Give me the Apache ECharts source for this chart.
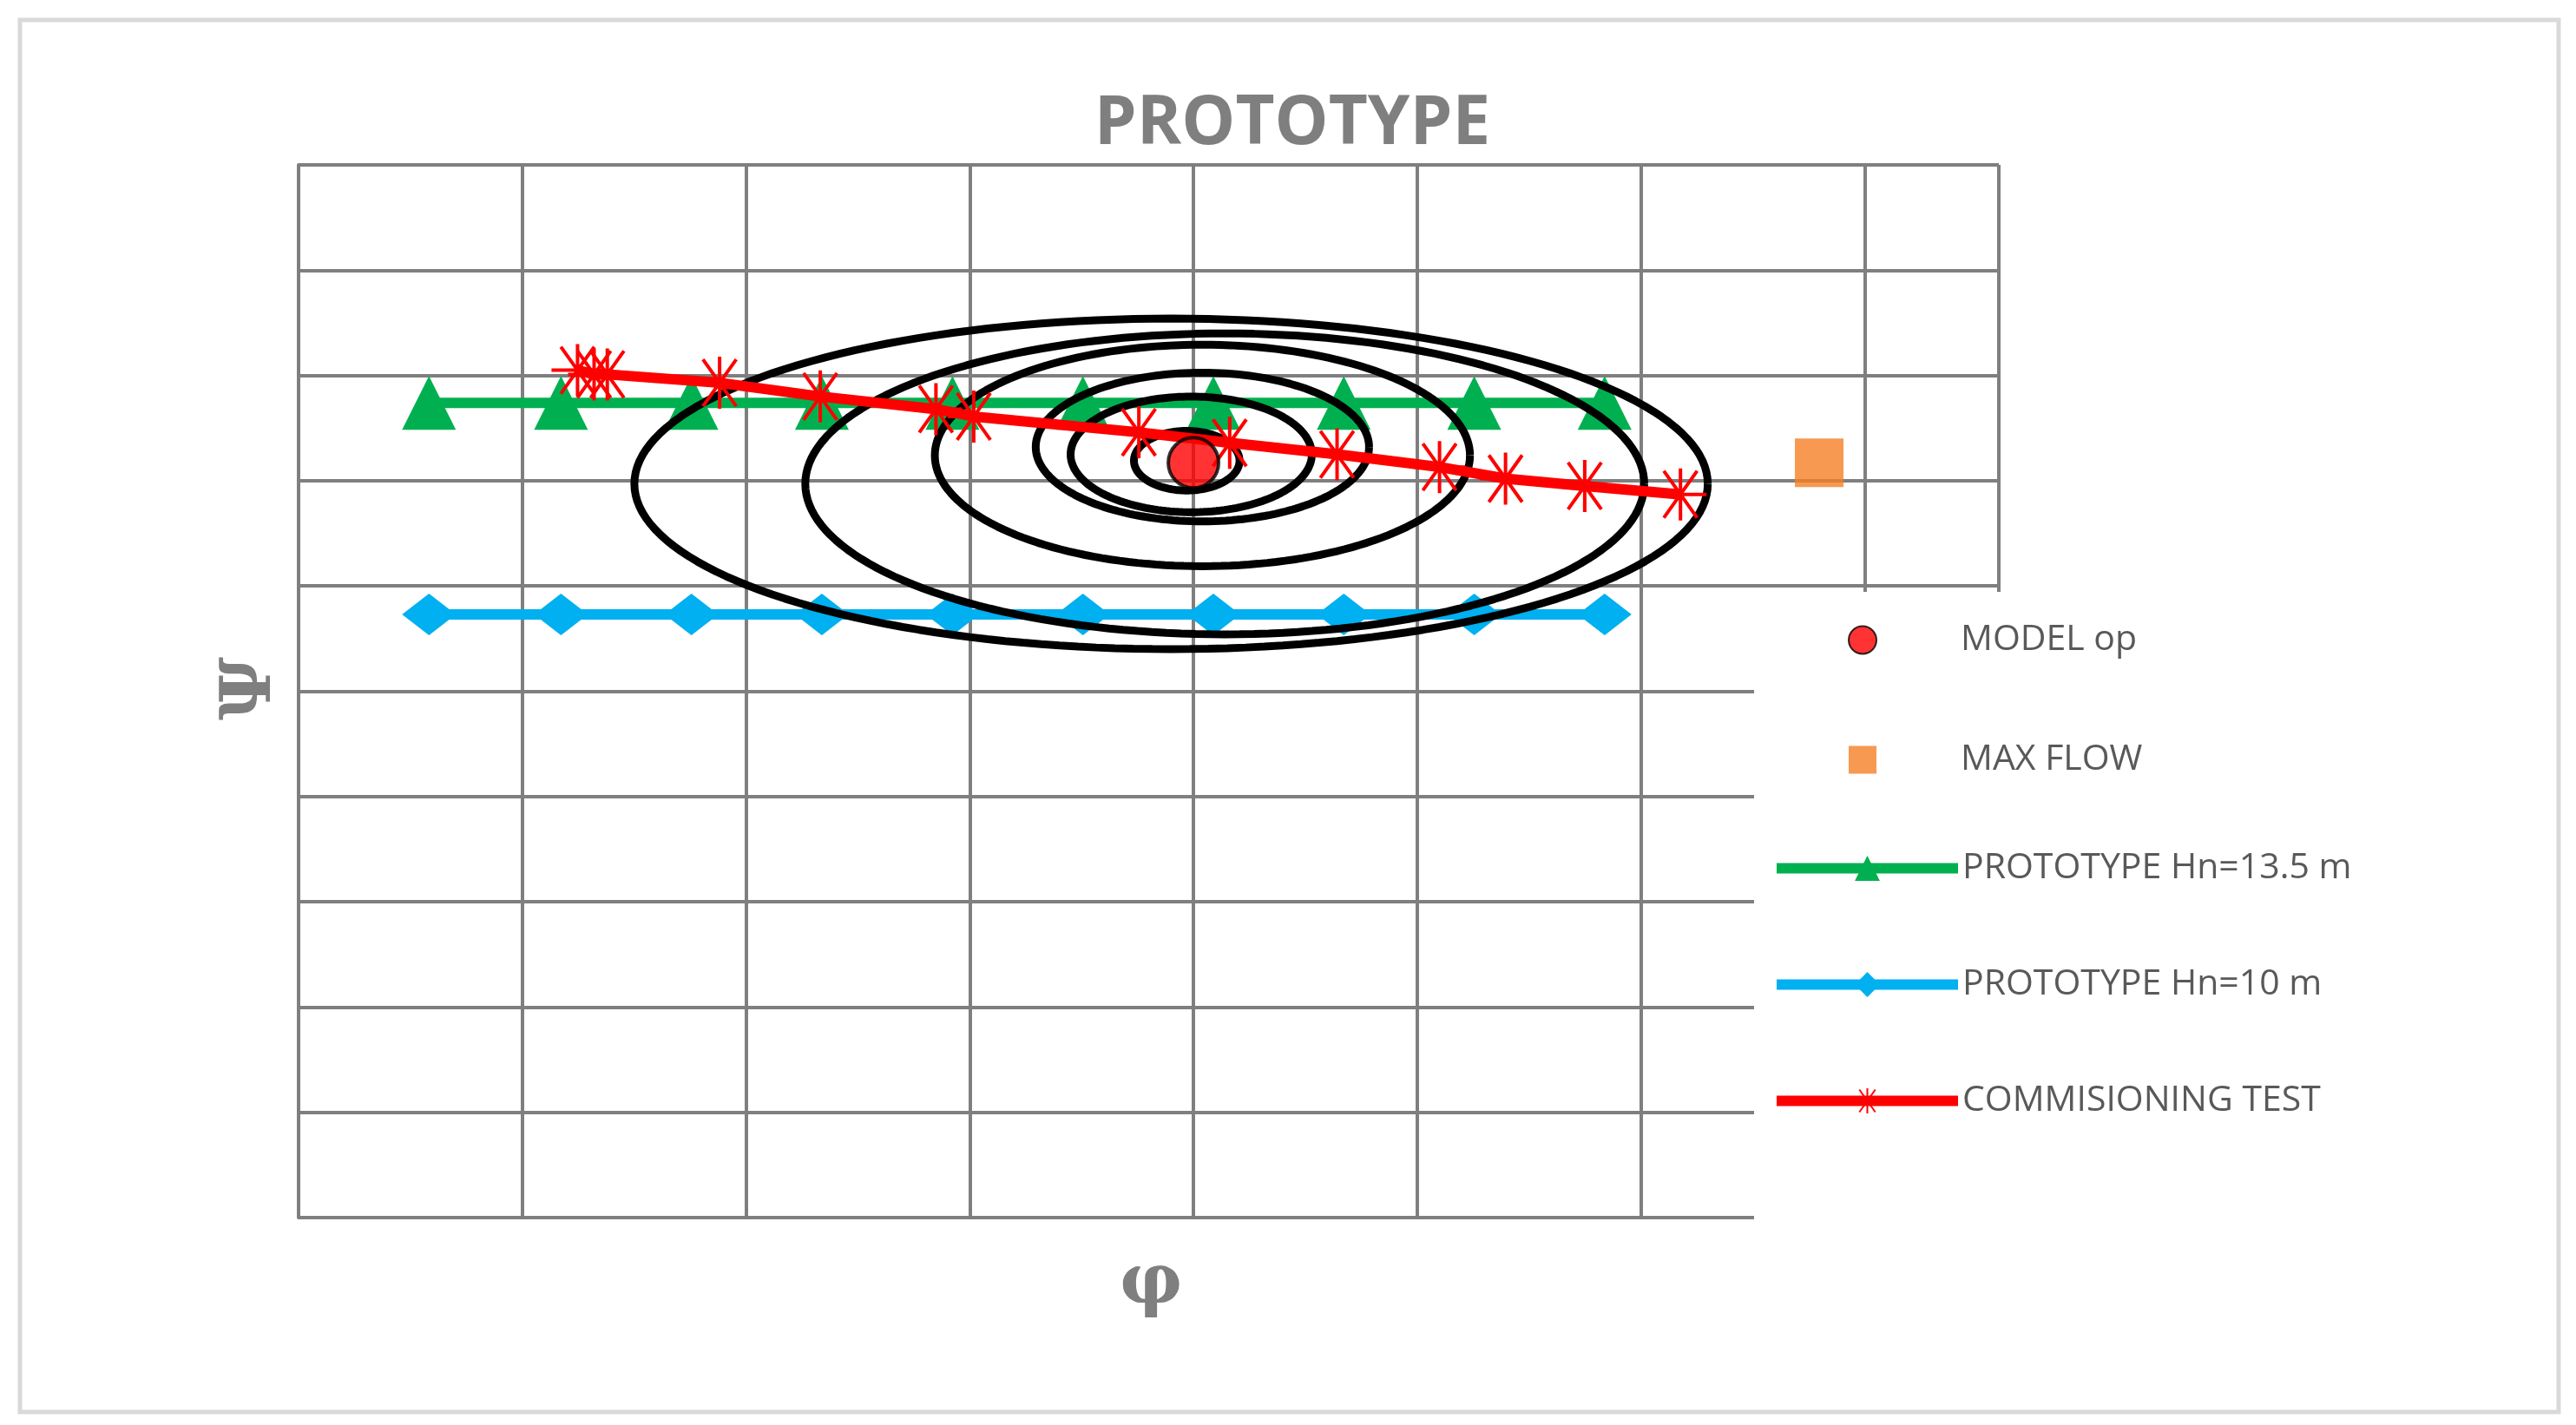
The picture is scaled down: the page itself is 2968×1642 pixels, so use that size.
<!DOCTYPE html>
<html><head><meta charset="utf-8">
<script src="https://cdn.jsdelivr.net/npm/echarts@6/dist/echarts.min.js"></script>
<style>html,body{margin:0;padding:0;background:#fff}#c{width:2968px;height:1642px}</style>
</head><body><div id="c"></div>
<script>
const protoX = [0.583,1.173,1.756,2.339,2.923,3.506,4.089,4.672,5.255,5.838];
const proto135Y = [7.74,7.74,7.74,7.74,7.74,7.74,7.74,7.74,7.74,7.74];
const proto10Y = [5.73,5.73,5.73,5.73,5.73,5.73,5.73,5.73,5.73,5.73];
const commX = [1.247,1.321,1.380,1.882,2.332,2.849,3.018,3.756,4.162,4.642,5.100,5.395,5.749,6.177];
const commY = [8.05,8.01,8.01,7.93,7.80,7.68,7.61,7.46,7.36,7.25,7.13,7.02,6.95,6.87];
const modelOp = [4.0,7.17];
const maxFlow = [6.797,7.17];
// efficiency contour ellipses: [cx, cy, rx, ry]
const ellCx = [3.97,3.99,4.04,4.04,4.14,3.90];
const ellCy = [7.19,7.25,7.32,7.24,6.97,6.97];
const ellRx = [0.236,0.539,0.745,1.196,1.875,2.399];
const ellRy = [0.283,0.549,0.706,1.052,1.429,1.570];

const zip = (a,b)=>a.map((v,i)=>[v,b[i]]);
const ellSeries = ellCx.map((cx,k)=>{
  const pts=[];
  for(let i=0;i<=180;i++){const t=i/180*2*Math.PI;pts.push([cx+ellRx[k]*Math.cos(t),ellCy[k]+ellRy[k]*Math.sin(t)]);}
  return {type:'line',data:pts,showSymbol:false,symbol:'none',silent:true,z:3,
    lineStyle:{color:'#000',width:9},itemStyle:{color:'#000'}};
});
const star='path://M0,5L10,5M5,0L5,10M1.8,0.5L8.2,9.5M8.2,0.5L1.8,9.5';
const gray='#7f7f7f';
const txt={fontFamily:'Open Sans',fontSize:41,color:'#595959'};
const chart=echarts.init(document.getElementById('c'));
chart.setOption({
  animation:false,
  backgroundColor:'#fff',
  title:{text:'PROTOTYPE',left:1484,top:100,textAlign:'center',
    textStyle:{fontFamily:'Open Sans',fontSize:78,fontWeight:'bold',color:'#7f7f7f'}},
  grid:{left:344,right:2968-2303,top:190,bottom:1642-1403},
  xAxis:{type:'value',min:0,max:7.6,interval:1,axisLabel:{show:false},axisTick:{show:false},
    axisLine:{show:false},splitLine:{show:true,lineStyle:{color:gray,width:4}}},
  yAxis:{type:'value',min:0,max:10,interval:1,axisLabel:{show:false},axisTick:{show:false},
    axisLine:{show:true,lineStyle:{color:gray,width:4}},splitLine:{show:true,lineStyle:{color:gray,width:4}}},
  legend:[
    {orient:'vertical',left:2124,top:712,itemWidth:32,itemHeight:32,itemGap:97,z:20,
      textStyle:Object.assign({padding:[0,0,0,92]},txt),
      data:[{name:'MODEL op',icon:'circle'},{name:'MAX FLOW',icon:'rect'}]},
    {orient:'vertical',left:2036,top:975,itemWidth:209,itemHeight:36,itemGap:93,z:20,
      textStyle:txt,
      data:[{name:'PROTOTYPE Hn=13.5 m',lineStyle:{width:12}},{name:'PROTOTYPE Hn=10 m',lineStyle:{width:12}},
            {name:'COMMISIONING TEST',lineStyle:{width:12}}]}
  ],
  graphic:[
    {type:'rect',shape:{x:2021,y:682,width:300,height:730},style:{fill:'#fff'},z:10},
    {type:'rect',shape:{x:23,y:23,width:2925,height:1604},style:{fill:'none',stroke:'#d9d9d9',lineWidth:5},z:1},
    {type:'text',left:1290,top:1440,style:{text:'φ',font:'bold 80px "DejaVu Serif"',fill:'#7f7f7f'},z:20},
    {type:'text',x:250,y:830,rotation:Math.PI/2,style:{text:'Ψ',font:'bold 80px "DejaVu Serif"',fill:'#7f7f7f'},z:20}
  ],
  series:[
    ...ellSeries,
    {name:'PROTOTYPE Hn=13.5 m',type:'line',data:zip(protoX,proto135Y),symbol:'triangle',symbolSize:62,z:2,
      lineStyle:{color:'#00b050',width:12},itemStyle:{color:'#00b050'}},
    {name:'PROTOTYPE Hn=10 m',type:'line',data:zip(protoX,proto10Y),symbol:'diamond',symbolSize:[62,48],z:2,
      lineStyle:{color:'#00b0f0',width:12},itemStyle:{color:'#00b0f0'}},
    {name:'COMMISIONING TEST',type:'line',data:zip(commX,commY),symbol:star,symbolSize:60,z:4,
      lineStyle:{color:'#ff0000',width:12},itemStyle:{color:'none',borderColor:'#ff0000',borderWidth:4}},
    {name:'MODEL op',type:'scatter',data:[modelOp],symbol:'circle',symbolSize:58,z:6,
      itemStyle:{color:'#ff0000',borderColor:'#000',borderWidth:4}},
    {name:'MAX FLOW',type:'scatter',data:[maxFlow],symbol:'rect',symbolSize:56,z:6,
      itemStyle:{color:'#f58025'}}
  ]
});
</script></body></html>
